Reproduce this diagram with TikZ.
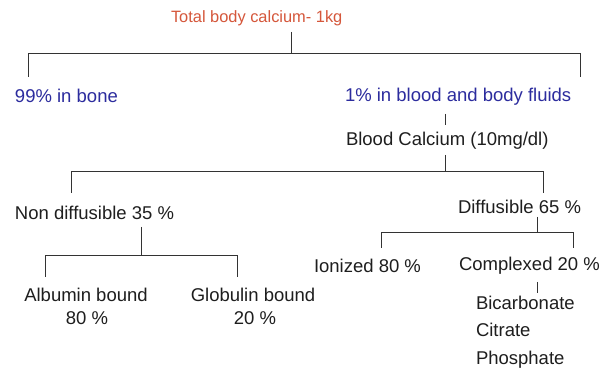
\documentclass[tikz,border=0pt]{standalone}
\usepackage{fontspec}
\setmainfont{Liberation Sans}
\definecolor{titlec}{HTML}{D5573B}
\definecolor{bluec}{HTML}{2C2C9E}
\definecolor{textc}{HTML}{1E1E1E}
\definecolor{linec}{HTML}{333333}
\begin{document}
\begin{tikzpicture}[x=1pt,y=-1pt,
  lbl/.style={inner sep=0pt,outer sep=0pt,text=textc,font=\fontsize{18.5}{23}\selectfont},
  bl/.style={lbl,text=bluec},
  conn/.style={draw=linec,line width=0.9pt}]
\useasboundingbox[fill=white] (0,0) rectangle (606,371);
% texts
\node[lbl,text=titlec,font=\fontsize{16.4}{19}\selectfont,anchor=base west] (total) at (171,23) {Total body calcium- 1kg};
\node[bl,anchor=base west] (bone) at (15,103) {99\% in bone};
\node[bl,anchor=base west] (fluid) at (345,102) {1\% in blood and body fluids};
\node[lbl,anchor=base west] (blood) at (346,146) {Blood Calcium (10mg/dl)};
\node[lbl,anchor=base west] (nondiff) at (15,220) {Non diffusible 35 \%};
\node[lbl,anchor=base west] (diff) at (458,214) {Diffusible 65 \%};
\node[lbl,anchor=base west] (ion) at (314,273) {Ionized 80 \%};
\node[lbl,anchor=base west] (comp) at (459,271) {Complexed 20 \%};
\node[lbl,anchor=base] (alb) at (86,302) {Albumin bound};
\node[lbl,anchor=base] (alb2) at (87,325) {80 \%};
\node[lbl,anchor=base] (glob) at (253,302) {Globulin bound};
\node[lbl,anchor=base] (glob2) at (255,325) {20 \%};
\node[lbl,anchor=base west] (bic) at (476,310) {Bicarbonate};
\node[lbl,anchor=base west] (cit) at (476,337) {Citrate};
\node[lbl,anchor=base west] (pho) at (476,365) {Phosphate};
% junction coordinates
\coordinate (t0) at (291,32);
\coordinate (t1) at (291,53);
\coordinate (tl) at (28,53);
\coordinate (tr) at (580,53);
\coordinate (tlb) at (28,77);
\coordinate (trb) at (580,77);
\coordinate (f0) at (445,114);
\coordinate (f1) at (445,125);
\coordinate (b0) at (445,155);
\coordinate (b1) at (445,171);
\coordinate (bl) at (71,171);
\coordinate (br) at (543,171);
\coordinate (blb) at (71,193);
\coordinate (brb) at (543,193);
\coordinate (n0) at (141,227);
\coordinate (n1) at (141,255);
\coordinate (nl) at (45,255);
\coordinate (nr) at (237,255);
\coordinate (nlb) at (45,277);
\coordinate (nrb) at (237,277);
\coordinate (d0) at (537,217);
\coordinate (d1) at (537,232);
\coordinate (dl) at (381,232);
\coordinate (dr) at (573,232);
\coordinate (dlb) at (381,248);
\coordinate (drb) at (573,248);
\coordinate (c0) at (537,282);
\coordinate (c1) at (537,293);
% connectors
\draw[conn] (t0) -- (t1);
\draw[conn] (tlb) -- (tl) -- (tr) -- (trb);
\draw[conn] (f0) -- (f1);
\draw[conn] (b0) -- (b1);
\draw[conn] (blb) -- (bl) -- (br) -- (brb);
\draw[conn] (n0) -- (n1);
\draw[conn] (nlb) -- (nl) -- (nr) -- (nrb);
\draw[conn] (d0) -- (d1);
\draw[conn] (dlb) -- (dl) -- (dr) -- (drb);
\draw[conn] (c0) -- (c1);
\end{tikzpicture}
\end{document}
